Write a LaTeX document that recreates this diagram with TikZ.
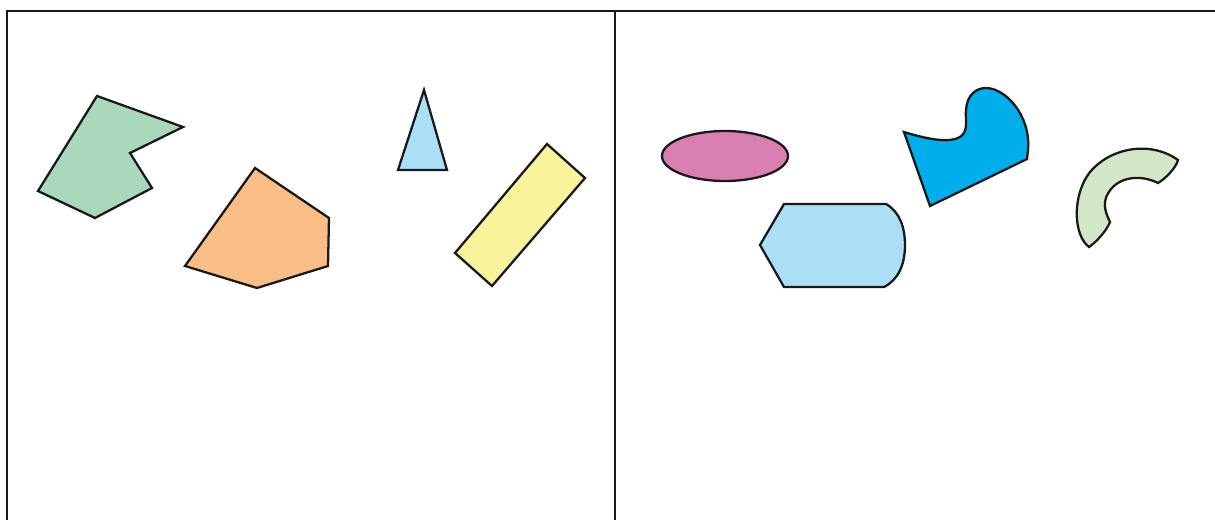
\documentclass[tikz,border=0pt]{standalone}
\usepackage{xcolor}
\usepackage{tikz}
\definecolor{verde}{HTML}{A9D8BD}
\definecolor{arancio}{HTML}{F9BD86}
\definecolor{celeste}{HTML}{ABDFF8}
\definecolor{giallo}{HTML}{F7F49C}
\definecolor{rosa}{HTML}{D87EB1}
\definecolor{ciano}{HTML}{00AEEC}
\definecolor{verdino}{HTML}{D3E7C8}
\tikzset{figura/.style={draw=black!90, line width=1.3pt, line join=miter}}

\begin{document}
\begin{tikzpicture}[x=0.02cm, y=-0.02cm]
        \useasboundingbox (0,0) rectangle (1215,520);
        \coordinate (A) at (7,520);
        \coordinate (B) at (7,11);
        \coordinate (C) at (1215,11);
        \coordinate (M) at (615,11);
        \coordinate (Mb) at (615,520);
        % cornice
        \draw[line width=1.6pt, black!90] (A) -- (B) -- (C);
        \draw[line width=1.6pt, black!90] (M) -- (Mb);
        % poligoni a sinistra
        \draw[figura, fill=verde] (97,96) -- (183,127) -- (130,153) -- (152,188) -- (95,218) -- (38,191) -- cycle;
        \draw[figura, fill=arancio] (255,168) -- (329,218) -- (328,266) -- (257,288) -- (185,266) -- cycle;
        \draw[figura, fill=celeste] (424,90) -- (447,170) -- (398,170) -- cycle;
        \draw[figura, fill=giallo] (547,144) -- (585,178) -- (492,286) -- (455,253) -- cycle;
        % figure curve a destra
        \draw[figura, fill=rosa] (725,156) ellipse [x radius=63, y radius=25];
        \draw[figura, fill=celeste] (760,245) -- (784,204) -- (886,204)
            .. controls (900,212) and (905,228) .. (905,245)
            .. controls (905,265) and (898,280) .. (884,287) -- (784,287) -- cycle;
        \draw[figura, fill=ciano] (904,132) .. controls (930,140) and (950,143) .. (960,137)
            .. controls (969,131) and (965,120) .. (966,110)
            .. controls (967,95) and (976,88) .. (986,88)
            .. controls (1005,88) and (1031,115) .. (1028,150) -- (1027,159) -- (930,206) -- cycle;
        \draw[figura, fill=verdino] (1089,247) .. controls (1073,235) and (1072,195) .. (1090,172)
            .. controls (1110,148) and (1150,140) .. (1178,160)
            .. controls (1176,168) and (1165,179) .. (1158,183)
            .. controls (1142,175) and (1122,176) .. (1111,189)
            .. controls (1102,200) and (1104,210) .. (1110,222)
            .. controls (1106,232) and (1095,243) .. (1089,247) -- cycle;
    \end{tikzpicture}
\end{document}
